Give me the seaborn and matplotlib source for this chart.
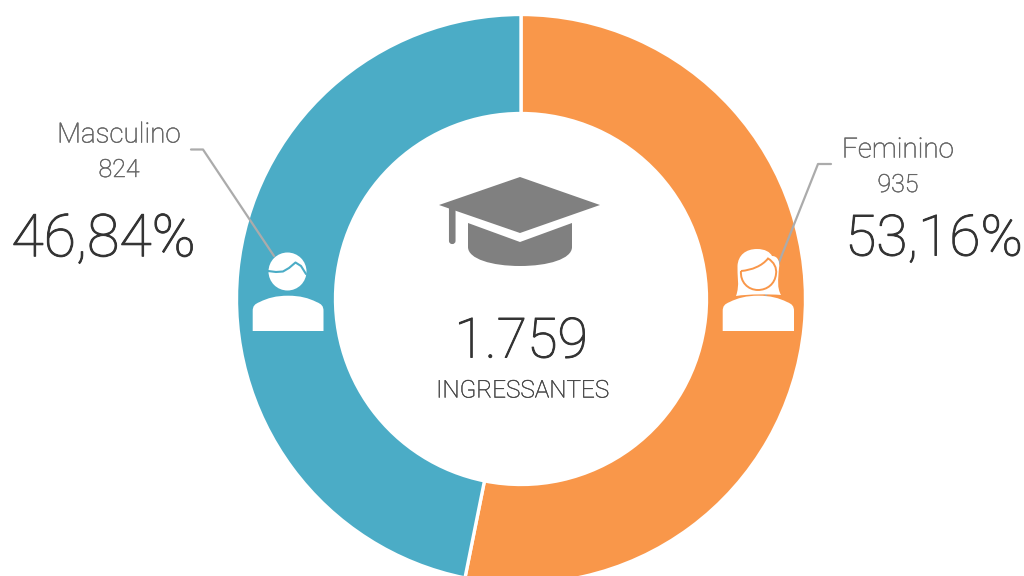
import matplotlib
matplotlib.use("Agg")
import matplotlib.pyplot as plt
from matplotlib.patches import Polygon, PathPatch, Circle, FancyBboxPatch
from matplotlib.path import Path
import matplotlib.patheffects as pe
import seaborn as sns

categorias = ["Feminino", "Masculino"]
valores = [935, 824]
percentuais = ["53,16%", "46,84%"]
cores = ["#F9974A", "#4BACC6"]
total = "1.759"
subtitulo = "INGRESSANTES"

sns.set_theme(style="white")
plt.rcParams['font.family'] = ['Roboto', 'DejaVu Sans']

fig = plt.figure(figsize=(10.24, 5.76), dpi=100)
ax = fig.add_axes([0, 0, 1, 1])

# eixo em pixels, y para baixo
CX, CY = 521, 299
ax.pie(valores, colors=cores, startangle=-90, counterclock=True, center=(CX, CY), radius=284.5,
       wedgeprops=dict(width=99, edgecolor="white", linewidth=2.4), frame=True)
ax.set_xlim(0, 1024)
ax.set_ylim(576, 0)
ax.set_aspect("auto")
ax.axis("off")

CINZA = "#666666"
ESCURO = "#333333"


def texto(x, y, s, tam, cor, grossura):
    # Roboto Light com um contorno fino, para chegar no peso do original
    ax.text(x, y, s, ha="center", va="center", fontsize=tam, color=cor, fontweight="light",
            path_effects=[pe.withStroke(linewidth=grossura, foreground=cor)])


texto(119, 135, categorias[1], 20, CINZA, 0.35)
texto(119, 170, str(valores[1]), 18, CINZA, 0.35)
texto(103.5, 240, percentuais[1], 42.5, ESCURO, 0.7)
texto(898, 150, categorias[0], 20, CINZA, 0.35)
texto(898, 185, str(valores[0]), 18, CINZA, 0.35)
texto(934, 240, percentuais[0], 41, ESCURO, 0.7)
texto(521, 342, total, 40, ESCURO, 0.7)
texto(522.5, 391, subtitulo, 17.5, "#444444", 0.3)

# linhas de chamada
ax.plot([191, 203, 274], [149.5, 149.5, 256], color="#ABABAB", lw=1.6, zorder=3)
ax.plot([831, 818, 766], [164, 164, 295], color="#ABABAB", lw=1.6, zorder=3)

# capelo
HAT = "#808080"
base = Path([(468, 223), (520, 242), (572, 223), (572, 247), (572, 259), (548, 266), (520, 266),
             (492, 266), (468, 259), (468, 247), (468, 223)],
            [Path.MOVETO, Path.LINETO, Path.LINETO, Path.LINETO, Path.CURVE4, Path.CURVE4, Path.CURVE4,
             Path.CURVE4, Path.CURVE4, Path.CURVE4, Path.CLOSEPOLY])
ax.add_patch(PathPatch(base, fc=HAT, ec="none", zorder=4))
ax.add_patch(Polygon([(520, 177), (600, 205), (520, 233), (439, 205)], fc=HAT, ec="none", zorder=4))
ax.add_patch(FancyBboxPatch((450, 205), 4.5, 38, boxstyle="round,pad=0,rounding_size=2.2", fc=HAT, ec=HAT, lw=1.5, zorder=4))


def corpo(x0, x1):
    # tronco das figuras
    meio = (x0 + x1) / 2
    verts = [(x0, 331), (x0, 311),
             (x0, 306), (x0 + 2, 304), (x0 + 7, 302),
             (x0 + 15, 298), (meio - 12, 295.7), (meio, 295.7),
             (meio + 12, 295.7), (x1 - 15, 298), (x1 - 7, 302),
             (x1 - 2, 304), (x1, 306), (x1, 311),
             (x1, 331), (x0, 331)]
    codes = [Path.MOVETO, Path.LINETO] + [Path.CURVE4] * 12 + [Path.LINETO, Path.CLOSEPOLY]
    return Path(verts, codes)


# homem
ax.add_patch(PathPatch(corpo(252.7, 323.5), fc="white", ec="none", zorder=5))
ax.add_patch(Circle((287.5, 271.5), 19, fc="white", ec="none", zorder=5))
ax.plot([268, 276, 283, 289, 295.5, 301, 306], [271, 272, 271.5, 268, 262.5, 266, 274], color=cores[1], lw=1.5, zorder=6)

# mulher
ax.add_patch(PathPatch(corpo(722.7, 794), fc="white", ec="none", zorder=5))
cabelo = Path([(736, 296), (740, 285), (737, 275), (737.5, 266), (738, 255), (746, 249), (757, 249),
               (765, 249), (770, 252), (772, 256), (778, 256), (780, 262), (779, 268),
               (778, 280), (777, 288), (781, 295), (770, 294), (748, 294), (736, 296)],
              [Path.MOVETO] + [Path.CURVE4] * 18)
ax.add_patch(PathPatch(cabelo, fc="white", ec="none", zorder=5))
rosto = Path([(741, 271), (752, 270), (762, 266), (768, 258.5), (774, 262), (777, 268), (776, 274),
              (775, 284), (767, 290), (758, 290), (748, 290), (740, 282), (741, 271)],
             [Path.MOVETO] + [Path.CURVE4] * 12)
ax.add_patch(PathPatch(rosto, fc="white", ec=cores[0], lw=1.4, zorder=6))

fig.savefig("out.png", dpi=100)
